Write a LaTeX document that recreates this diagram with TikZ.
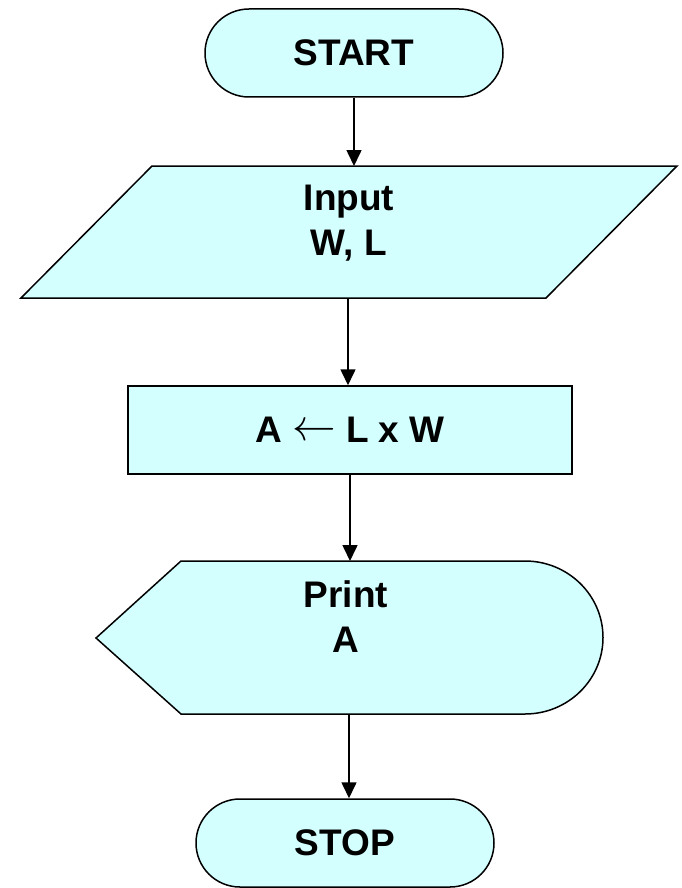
\documentclass[tikz,border=0pt]{standalone}
\usepackage{fontspec}
\setmainfont{Liberation Sans}
\usetikzlibrary{arrows.meta,shapes.misc}
\definecolor{boxfill}{RGB}{212,255,255}
\begin{document}
\begin{tikzpicture}[x=1pt,y=-1pt,
  shp/.style={draw=black, line width=1.5pt, fill=boxfill},
  lbl/.style={font=\fontsize{37}{45}\selectfont\bfseries, align=center, text=black},
  arr/.style={line width=1.6pt, -{Triangle[width=15pt,length=16pt]}}]
\useasboundingbox (0,0) rectangle (682,888);
% START
\node[shp, rounded rectangle, minimum width=298pt, minimum height=88pt, inner sep=0pt, lbl] (start) at (354,53) {START};
% Input parallelogram
\draw[shp] (152,166) -- (677,166) -- (546,298) -- (21,298) -- cycle;
\coordinate (inpT) at (354,166);
\coordinate (inpB) at (348,298);
\node[lbl] (inp) at (349,223) {Input\\W, L};
% process
\node[shp, rectangle, minimum width=444pt, minimum height=88pt, inner sep=0pt, lbl] (proc) at (350,430) {A \raisebox{2pt}{\scalebox{1.75}[1.8]{$\leftarrow$}} L x W};
% display
\draw[shp] (96,638) -- (181,561) -- (525,561) arc[start angle=-90, end angle=90, x radius=78, y radius=76.5] -- (181,714) -- cycle;
\coordinate (dispT) at (350,561);
\coordinate (dispB) at (349,714);
\node[lbl] (disp) at (346,617) {Print\\A};
% STOP
\node[shp, rounded rectangle, minimum width=298pt, minimum height=88pt, inner sep=0pt, lbl] (stop) at (345,843) {STOP};
% connectors
\draw[arr] (start.south) -- (inpT);
\draw[arr] (inpB) -- (inpB |- proc.north);
\draw[arr] (proc.south) -- (dispT);
\draw[arr] (dispB) -- (dispB |- stop.north);
\end{tikzpicture}
\end{document}
